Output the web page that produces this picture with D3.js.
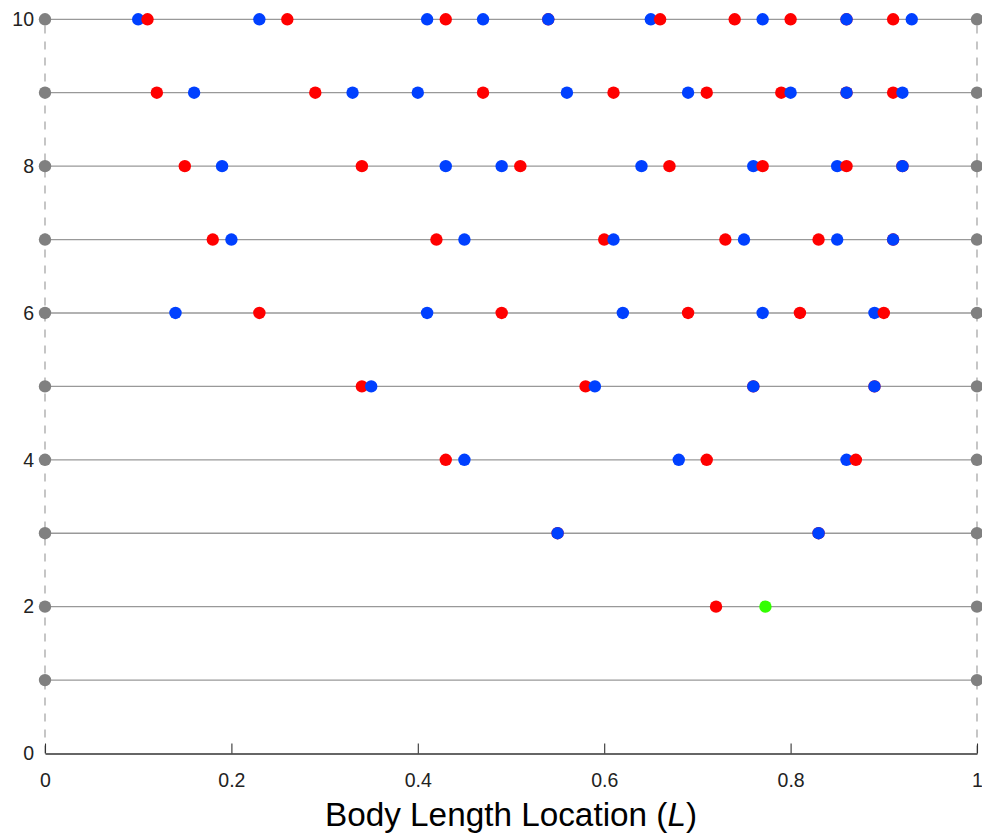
<!DOCTYPE html>
<html>
<head>
<meta charset="utf-8">
<script src="https://cdn.jsdelivr.net/npm/d3@7"></script>
<style>
  html, body { margin: 0; padding: 0; background: #fff; }
  svg { display: block; font-family: "Liberation Sans", Arial, sans-serif; }
</style>
</head>
<body>
<svg id="chart" width="982" height="837"></svg>
<script>
// Row indices (vertical position) and the marker positions along the body length
const rowLevels = [1, 2, 3, 4, 5, 6, 7, 8, 9, 10];

// Red marker positions, one list per row (row 1 first)
const redByRow = [
  [],
  [0.72],
  [0.55, 0.83],
  [0.43, 0.71, 0.87],
  [0.34, 0.58, 0.76, 0.89],
  [0.23, 0.49, 0.69, 0.81, 0.90],
  [0.18, 0.42, 0.60, 0.73, 0.83, 0.91],
  [0.15, 0.34, 0.51, 0.67, 0.77, 0.86, 0.92],
  [0.12, 0.29, 0.47, 0.61, 0.71, 0.79, 0.86, 0.91],
  [0.11, 0.26, 0.43, 0.54, 0.66, 0.74, 0.80, 0.86, 0.91]
];

// Blue marker positions, one list per row (row 1 first)
const blueByRow = [
  [],
  [],
  [0.55, 0.83],
  [0.45, 0.68, 0.86],
  [0.35, 0.59, 0.76, 0.89],
  [0.14, 0.41, 0.62, 0.77, 0.89],
  [0.20, 0.45, 0.61, 0.75, 0.85, 0.91],
  [0.19, 0.43, 0.49, 0.64, 0.76, 0.85, 0.92],
  [0.16, 0.33, 0.40, 0.56, 0.69, 0.80, 0.86, 0.92],
  [0.10, 0.23, 0.41, 0.47, 0.54, 0.65, 0.77, 0.86, 0.93]
];

// Green marker positions, one list per row (row 1 first)
const greenByRow = [
  [],
  [0.773],
  [], [], [], [], [], [], [], []
];

// Segment ends for every row
const endPositions = [0, 1];

const xTickValues = [0, 0.2, 0.4, 0.6, 0.8, 1];
const xTickLabels = ["0", "0.2", "0.4", "0.6", "0.8", "1"];
const yTickValues = [0, 2, 4, 6, 8, 10];
const yTickLabels = ["0", "2", "4", "6", "8", "10"];

const colors = { red: "#ff0000", blue: "#0040ff", green: "#33ff00", end: "#808080" };
const dotRadius = 6.2;

const svg = d3.select("#chart");
const x = d3.scaleLinear().domain([0, 1]).range([45, 977]);
const y = d3.scaleLinear().domain([0, 10]).range([753.5, 19.3]);

// Dashed verticals at both ends of the body
svg.append("g")
  .selectAll("line")
  .data(endPositions)
  .join("line")
  .attr("x1", d => x(d)).attr("x2", d => x(d))
  .attr("y1", y(0)).attr("y2", y(10))
  .attr("stroke", "#a0a0a0")
  .attr("stroke-width", 1.2)
  .attr("stroke-dasharray", "8,8");

// Horizontal axis with inward ticks
const xAxis = d3.axisBottom(x)
  .tickValues(xTickValues)
  .tickFormat((d, i) => xTickLabels[i])
  .tickSizeInner(-10)
  .tickSizeOuter(0)
  .tickPadding(20);
const gx = svg.append("g")
  .attr("transform", `translate(0,${y(0)})`)
  .call(xAxis);
gx.select(".domain").attr("stroke", "#333").attr("stroke-width", 1.3);
gx.selectAll(".tick line").attr("stroke", "#333").attr("stroke-width", 1.1);
gx.selectAll(".tick text")
  .attr("font-size", 19.5)
  .attr("fill", "#222")
  .attr("font-family", "Liberation Sans, Arial, sans-serif");

// Vertical axis: labels only
const yAxis = d3.axisLeft(y)
  .tickValues(yTickValues)
  .tickFormat((d, i) => yTickLabels[i])
  .tickSize(0)
  .tickPadding(11);
const gy = svg.append("g")
  .attr("transform", `translate(${x(0)},0)`)
  .call(yAxis);
gy.select(".domain").remove();
gy.selectAll(".tick text")
  .attr("font-size", 19.5)
  .attr("fill", "#222")
  .attr("font-family", "Liberation Sans, Arial, sans-serif");

// Axis title
const title = svg.append("text")
  .attr("x", (x(0) + x(1)) / 2)
  .attr("y", 826)
  .attr("text-anchor", "middle")
  .attr("font-size", 33.3)
  .attr("fill", "#000");
title.append("tspan").text("Body Length Location (");
title.append("tspan").attr("font-style", "italic").text("L");
title.append("tspan").text(")");

// Row baselines
svg.append("g")
  .selectAll("line")
  .data(rowLevels)
  .join("line")
  .attr("x1", x(0)).attr("x2", x(1))
  .attr("y1", d => y(d)).attr("y2", d => y(d))
  .attr("stroke", "#999")
  .attr("stroke-width", 1.3);

// Markers for each row, drawn left to right so later ones sit on top
const rowGroups = svg.append("g")
  .selectAll("g")
  .data(rowLevels)
  .join("g");

rowGroups.each(function (level, i) {
  const pts = [];
  endPositions.forEach(p => pts.push({ pos: p, kind: "end", order: 0 }));
  redByRow[i].forEach(p => pts.push({ pos: p, kind: "red", order: 1 }));
  greenByRow[i].forEach(p => pts.push({ pos: p, kind: "green", order: 1 }));
  blueByRow[i].forEach(p => pts.push({ pos: p, kind: "blue", order: 2 }));
  pts.sort((a, b) => a.pos - b.pos || a.order - b.order);
  d3.select(this)
    .selectAll("circle")
    .data(pts)
    .join("circle")
    .attr("cx", d => x(d.pos))
    .attr("cy", y(level))
    .attr("r", dotRadius)
    .attr("fill", d => colors[d.kind]);
});
</script>
</body>
</html>
